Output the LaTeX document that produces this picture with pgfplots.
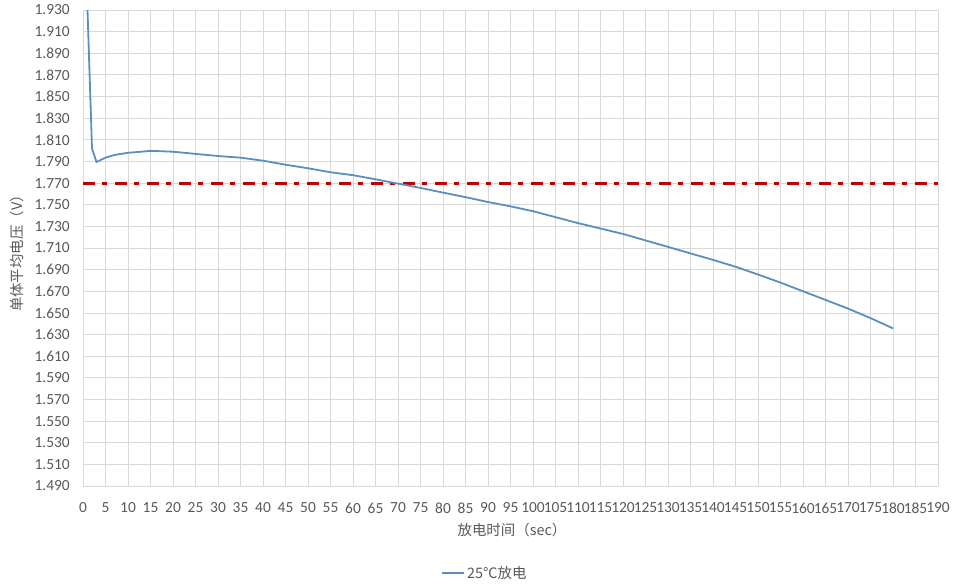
\documentclass[border=0pt]{standalone}
\usepackage{pgfplots}
\pgfplotsset{compat=1.18}
\usepackage{fontspec}
\setmainfont{Carlito}
\newfontfamily\cjk{Noto Sans CJK SC}
\definecolor{txt}{RGB}{89,89,89}
\definecolor{gridc}{RGB}{217,217,217}
\definecolor{axc}{RGB}{191,191,191}
\definecolor{curve}{RGB}{91,143,190}
\definecolor{refc}{RGB}{192,0,0}
\pgfplotstableread{
x y
1 1.930
2 1.802
3 1.7895
5 1.7935
7 1.796
10 1.798
13 1.799
15 1.7998
17 1.7995
20 1.799
25 1.7970
30 1.7950
35 1.7935
40 1.7907
45 1.7870
50 1.7837
55 1.7800
60 1.7773
65 1.7735
70 1.7695
75 1.7655
80 1.7612
85 1.7570
90 1.7525
95 1.7485
100 1.7440
105 1.7385
110 1.7330
115 1.7280
120 1.7230
125 1.7170
130 1.7110
135 1.7050
140 1.6990
145 1.6927
150 1.6855
155 1.6780
160 1.6700
165 1.6620
170 1.6540
175 1.6452
180 1.6357
}\discharge
\pgfplotstableread{
x y
0 1.770
190 1.770
}\limitline
\begin{document}
\begin{tikzpicture}[x=1bp,y=1bp]
\path[use as bounding box] (0,0) rectangle (961,585);
\begin{axis}[
  at={(83bp,99bp)}, anchor=south west,
  scale only axis, width=855bp, height=476bp,
  xmin=0, xmax=190, ymin=1.49, ymax=1.93,
  xtick={0,5,...,190},
  ytick={1.49,1.51,1.53,1.55,1.57,1.59,1.61,1.63,1.65,1.67,1.69,1.71,1.73,1.75,1.77,1.79,1.81,1.83,1.85,1.87,1.89,1.91,1.93},
  grid=major,
  major grid style={draw=gridc, line width=0.8bp},
  axis line style={draw=none},
  major tick length=0pt,
  tick style={draw=none},
  /pgf/number format/assume math mode=true,
  tick label style={font=\fontsize{15.5}{17}\selectfont, text=txt, inner sep=1bp},
  yticklabel style={/pgf/number format/fixed, /pgf/number format/fixed zerofill, /pgf/number format/precision=3, anchor=east, xshift=-12bp},
  xticklabel style={/pgf/number format/fixed, /pgf/number format/precision=0, anchor=center, yshift=-22bp},
  legend style={at={(0.47,-0.183)}, anchor=center, draw=none, fill=none,
    font=\cjk\fontsize{14.5}{16}\selectfont, text=txt},
  legend image code/.code={\draw[#1] (0bp,0bp) -- (22bp,0bp);},
]
\addplot[draw=refc, line width=3bp, dash pattern=on 12bp off 7bp on 5bp off 8bp, forget plot] table[x=x,y=y] {\limitline};
\addplot[draw=curve, line width=1.8bp] table[x=x,y=y] {\discharge};
\addlegendentry{25℃放电}
\draw[axc, line width=0.8bp] (rel axis cs:0,0) -- (rel axis cs:1,0);
\end{axis}
\node[font=\cjk\fontsize{14.5}{16}\selectfont, text=txt] at (512,55) {放电时间（sec）};
\node[font=\cjk\fontsize{14.5}{16}\selectfont, text=txt, rotate=90] at (17,335) {单体平均电压（V）};
\end{tikzpicture}
\end{document}
